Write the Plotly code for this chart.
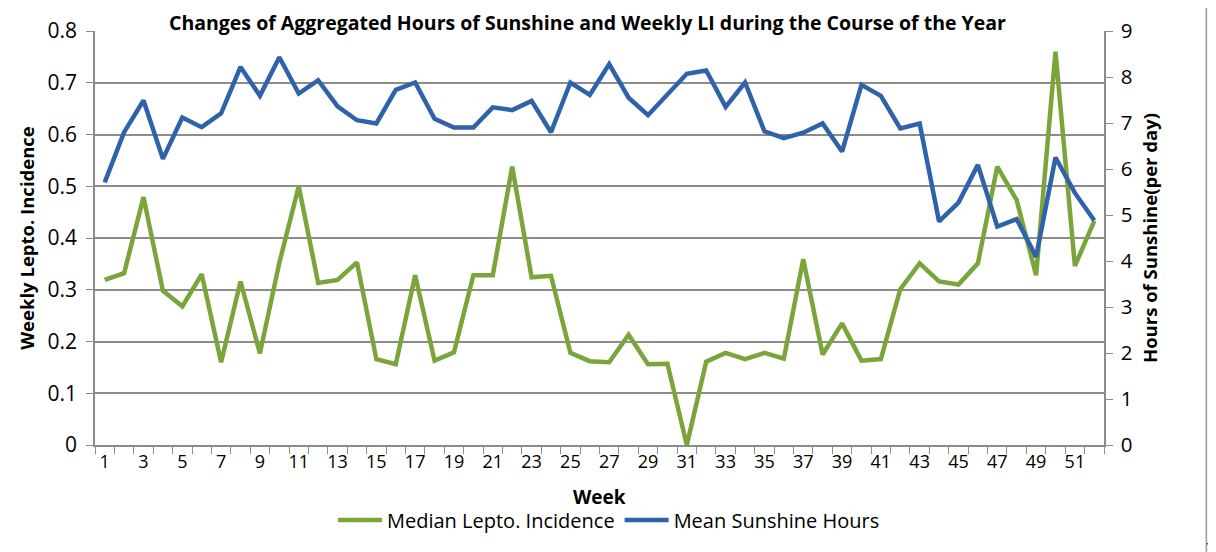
import plotly.graph_objects as go

weeks = list(range(1, 53))
lepto = [0.319, 0.332, 0.479, 0.298, 0.268, 0.330, 0.160, 0.316, 0.177, 0.352,
         0.500, 0.313, 0.319, 0.353, 0.166, 0.156, 0.328, 0.163, 0.179, 0.328,
         0.328, 0.538, 0.324, 0.327, 0.178, 0.162, 0.160, 0.213, 0.156, 0.157,
         0.0, 0.161, 0.178, 0.166, 0.178, 0.167, 0.359, 0.175, 0.235, 0.163,
         0.166, 0.301, 0.351, 0.316, 0.310, 0.351, 0.538, 0.473, 0.328, 0.760,
         0.346, 0.433]
sunshine = [5.71, 6.80, 7.49, 6.22, 7.12, 6.91, 7.21, 8.22, 7.59, 8.43,
            7.64, 7.93, 7.36, 7.06, 6.99, 7.72, 7.88, 7.09, 6.90, 6.90,
            7.34, 7.28, 7.48, 6.80, 7.88, 7.61, 8.28, 7.55, 7.17, 7.63,
            8.07, 8.14, 7.35, 7.88, 6.82, 6.67, 6.79, 6.99, 6.38, 7.83,
            7.59, 6.88, 6.99, 4.86, 5.27, 6.09, 4.75, 4.91, 4.09, 6.25,
            5.48, 4.88]
x_ticks = list(range(1, 52, 2))
left_ticks = [0, 0.1, 0.2, 0.3, 0.4, 0.5, 0.6, 0.7, 0.8]
right_ticks = list(range(0, 10))

title = "Changes of Aggregated Hours of Sunshine and Weekly LI during the Course of the Year"
FONT = "Open Sans"
GRID = "#8c8c8c"

W, H = 1208, 544
L, T, PW, PH = 86.5, 23, 1010, 414

fig = go.Figure()
fig.add_trace(go.Scatter(x=weeks, y=lepto, mode="lines", name="Median Lepto. Incidence",
                         line=dict(color="#7aa53b", width=4.5), yaxis="y"))
fig.add_trace(go.Scatter(x=weeks, y=sunshine, mode="lines", name="Mean Sunshine Hours",
                         line=dict(color="#2f62aa", width=4.5), yaxis="y2"))

fig.update_layout(
    width=W, height=H,
    margin=dict(l=L, r=W - L - PW, t=T, b=H - T - PH, autoexpand=False),
    paper_bgcolor="white", plot_bgcolor="white",
    font=dict(family=FONT, color="#000000", size=16),
    showlegend=True,
    legend=dict(orientation="h", xref="container", yref="container",
                x=601 / W, xanchor="center", y=1 - 512 / H, yanchor="middle",
                font=dict(size=20, family=FONT), itemwidth=44, tracegroupgap=0,
                bgcolor="rgba(0,0,0,0)"),
    xaxis=dict(range=[0.5, 52.5], tickmode="array", tickvals=x_ticks, automargin=False,
               ticktext=[str(v) for v in x_ticks], ticks="outside", ticklen=0,
               showgrid=False, zeroline=False, showline=True, linecolor=GRID, linewidth=1.5,
               tickfont=dict(size=18, family=FONT),
               minor=dict(ticks="outside", tick0=0.5, dtick=1, ticklen=7, tickcolor=GRID,
                          showgrid=False)),
    yaxis=dict(range=[0, 0.8], tickmode="array", tickvals=left_ticks, automargin=False,
               ticktext=["0" if v == 0 else f"{v:.1f}" for v in left_ticks],
               ticks="outside", ticklen=7, tickcolor=GRID,
               showgrid=True, gridcolor=GRID, gridwidth=1.5, zeroline=False,
               showline=True, linecolor=GRID, linewidth=1.5,
               tickfont=dict(size=21, family=FONT), ticklabelstandoff=5,
               title=dict(text="<b>Weekly Lepto. Incidence</b>", font=dict(size=18.5, family=FONT),
                          standoff=8)),
    yaxis2=dict(range=[0, 9], overlaying="y", side="right", tickmode="array", automargin=False,
                tickvals=right_ticks, ticks="outside", ticklen=7, tickcolor=GRID,
                showgrid=False, zeroline=False, showline=True, linecolor=GRID, linewidth=1.5,
                tickfont=dict(size=20.5, family=FONT), ticklabelstandoff=4,
                title=dict(text="<b>Hours of Sunshine(per day)</b>", font=dict(size=18.5, family=FONT),
                           standoff=12)),
    annotations=[
        dict(text="<b>" + title + "</b>", xref="paper", yref="paper", x=0.488, y=1.0,
             xanchor="center", yanchor="bottom", yshift=-7, showarrow=False,
             font=dict(size=19.5, family=FONT, color="#000000")),
        dict(text="<b>Week</b>", xref="paper", yref="paper", x=0.5, y=0,
             xanchor="center", yanchor="middle", yshift=-52, showarrow=False,
             font=dict(size=19, family=FONT, color="#000000")),
        dict(text="<b>3</b>", xref="paper", yref="paper", x=1.0, xshift=100, y=0,
             yshift=-103, xanchor="left", yanchor="middle", showarrow=False,
             font=dict(size=22, family=FONT, color="#000000")),
    ],
    shapes=[
        dict(type="rect", xref="paper", yref="paper", x0=-90 / PW, x1=1 + 102.5 / PW,
             y0=-0.4, y1=1.0 + 25 / PH, line=dict(color="#9a9a9a", width=1.5),
             layer="below"),
    ],
)

fig.write_html("out.html")
